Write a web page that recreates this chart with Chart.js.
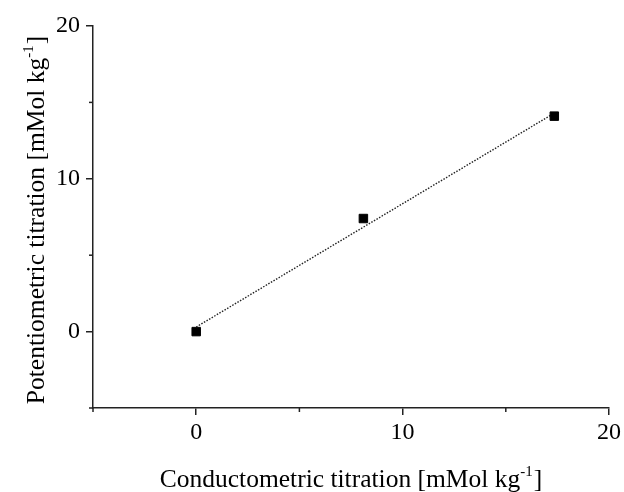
<!DOCTYPE html>
<html>
<head>
<meta charset="utf-8">
<script src="https://cdn.jsdelivr.net/npm/chart.js@4.4.0/dist/chart.umd.min.js"></script>
<style>
  html, body { margin: 0; padding: 0; background: #fff; }
  #wrap { width: 624px; height: 492px; }
</style>
</head>
<body>
<div id="wrap"><canvas id="myChart" width="624" height="492"></canvas></div>
<script>
// measured points (conductometric vs potentiometric, mMol/kg)
var conductX = [0, 8.1, 17.35];
var potentioY = [0, 7.4, 14.1];
// dotted fit line end points
var fitX = [0, 17.35];
var fitY = [0.3, 14.3];
var xTitle = "Conductometric titration [mMol kg";
var yTitle = "Potentiometric titration [mMol kg";
var supText = "-1";
var titleEnd = "]";

var serif = '"Liberation Serif", "Times New Roman", serif';
var axisCol = '#222';

function pts(xs, ys) {
  var out = [];
  for (var i = 0; i < xs.length; i++) out.push({x: xs[i], y: ys[i]});
  return out;
}

// axis title with a raised "-1"
function drawTitle(ctx, main, cx, cy, rot) {
  ctx.save();
  ctx.translate(cx, cy);
  ctx.rotate(rot);
  ctx.fillStyle = '#000';
  ctx.textBaseline = 'alphabetic';
  ctx.textAlign = 'left';
  var big = '25.5px ' + serif, small = '15px ' + serif;
  ctx.font = big;
  var w1 = ctx.measureText(main).width;
  ctx.font = small;
  var w2 = ctx.measureText(supText).width;
  ctx.font = big;
  var w3 = ctx.measureText(titleEnd).width;
  var x0 = -(w1 + w2 + 1 + w3) / 2;
  ctx.fillText(main, x0, 0);
  ctx.font = small;
  ctx.fillText(supText, x0 + w1, -11);
  ctx.font = big;
  ctx.fillText(titleEnd, x0 + w1 + w2 + 1, 0);
  ctx.restore();
}

var extras = {
  id: 'extras',
  afterDraw: function(chart) {
    var ctx = chart.ctx, xs = chart.scales.x, ys = chart.scales.y;
    var a = chart.chartArea;
    // minor ticks
    ctx.save();
    ctx.strokeStyle = axisCol;
    ctx.lineWidth = 1.5;
    [-5, 5, 15].forEach(function(v) {
      var px = xs.getPixelForValue(v);
      ctx.beginPath(); ctx.moveTo(px, a.bottom); ctx.lineTo(px, a.bottom + 4); ctx.stroke();
      var py = ys.getPixelForValue(v);
      ctx.beginPath(); ctx.moveTo(a.left, py); ctx.lineTo(a.left - 4, py); ctx.stroke();
    });
    ctx.restore();
    drawTitle(ctx, xTitle, (a.left + a.right) / 2, 487, 0);
    drawTitle(ctx, yTitle, 44, (a.top + a.bottom) / 2 + 3, -Math.PI / 2);
  }
};

function tickCol(c) {
  return (c.tick && c.tick.value % 10 === 0) ? axisCol : 'rgba(0,0,0,0)';
}

new Chart("myChart", {
  type: "scatter",
  data: {
    datasets: [{
      data: pts(conductX, potentioY),
      pointStyle: 'rect',
      pointRadius: 6,
      pointHoverRadius: 6,
      backgroundColor: '#000',
      borderColor: '#000',
      borderWidth: 1,
      showLine: false,
      order: 0
    }, {
      data: pts(fitX, fitY),
      showLine: true,
      pointRadius: 0,
      borderColor: '#222',
      borderWidth: 1.4,
      borderDash: [1.5, 1.5],
      order: 1
    }]
  },
  options: {
    responsive: false,
    animation: false,
    events: [],
    layout: { padding: { left: 0, right: 15, top: 26, bottom: 0 } },
    plugins: { legend: false, tooltip: { enabled: false }, title: { display: false } },
    scales: {
      x: {
        type: 'linear',
        min: -5, max: 20,
        afterFit: function(s) { s.height = 84; },
        border: { display: true, color: axisCol, width: 1.5 },
        grid: { drawOnChartArea: false, drawTicks: true, tickLength: 7, color: tickCol, lineWidth: 1.5 },
        ticks: {
          stepSize: 5, autoSkip: false, maxRotation: 0, padding: 3,
          color: '#000', font: { family: serif, size: 24 },
          callback: function(v) { return v % 10 === 0 ? v : ''; }
        }
      },
      y: {
        type: 'linear',
        min: -5, max: 20,
        afterFit: function(s) { s.width = 93; },
        border: { display: true, color: axisCol, width: 1.5 },
        grid: { drawOnChartArea: false, drawTicks: true, tickLength: 7, color: tickCol, lineWidth: 1.5 },
        ticks: {
          stepSize: 5, autoSkip: false, padding: 6,
          color: '#000', font: { family: serif, size: 24 },
          callback: function(v) { return v % 10 === 0 ? v : ''; }
        }
      }
    }
  },
  plugins: [extras]
});
</script>
</body>
</html>
